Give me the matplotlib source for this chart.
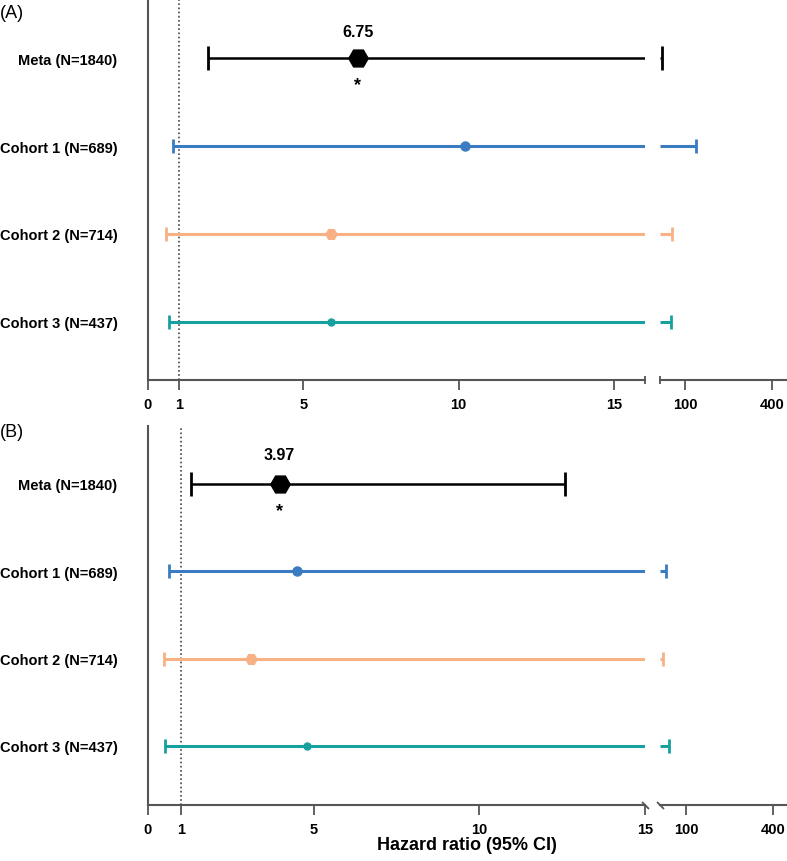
import matplotlib.pyplot as plt

plt.rcParams['font.family'] = ['Liberation Sans', 'DejaVu Sans']

# data
labels = ['Meta (N=1840)', 'Cohort 1 (N=689)', 'Cohort 2 (N=714)', 'Cohort 3 (N=437)']
colors = ['#000000', '#3a7bc2', '#f7b184', '#17a0a0']
markers = ['H', 'o', 'H', 'o']
msizes = [14, 6.5, 8, 5]

# panel A
hr_a = [6.75, 10.2, 5.9, 5.9]
lo_a = [1.93, 0.8, 0.58, 0.68]
hi_a = [20.7, 138, 55, 52]

# panel B
hr_b = [3.97, 4.5, 3.1, 4.8]
lo_b = [1.29, 0.63, 0.48, 0.51]
hi_b = [12.6, 31, 20.6, 41]

left_ticks_a = [0, 1, 5, 10, 15]
left_ticks_b = [0, 1, 5, 10, 15]
right_ticks = [100, 400]

W, H = 787, 862
AXC = '#555555'

fig = plt.figure(figsize=(W / 100, H / 100), dpi=100)


def px_box(x0, x1, y0, y1):
    # y0 top, y1 bottom (pixels from top)
    return [x0 / W, 1 - y1 / H, (x1 - x0) / W, (y1 - y0) / H]


def style_ax(ax, left_spine):
    for s in ['top', 'right']:
        ax.spines[s].set_visible(False)
    ax.spines['left'].set_visible(left_spine)
    for s in ['left', 'bottom']:
        ax.spines[s].set_color(AXC)
        ax.spines[s].set_linewidth(1.5)
    ax.tick_params(axis='x', direction='out', length=7, width=1.3, color=AXC, pad=5)
    for t in ax.get_xticklabels():
        t.set_fontweight('bold')
        t.set_fontsize(10.5)


def draw_panel(top, bottom, row0, step, hr, lo, hi, lxlim, rxlim, lticks, star_txt, broken):
    axl = fig.add_axes(px_box(148, 645, top, bottom))
    axr = fig.add_axes(px_box(660, 787, top, bottom))
    ylo = (bottom - row0) / step
    yhi = (top - row0) / step
    for ax in (axl, axr):
        ax.set_ylim(ylo, yhi)
    axl.set_xlim(*lxlim)
    axr.set_xlim(*rxlim)

    axl.axvline(1, ls=(0, (1, 1.5)), color='#444444', lw=1.2, zorder=1)

    for i in range(4):
        c = colors[i]
        lw = 1.8 if i == 0 else 2.2
        cap = 17 if i == 0 else 9.5
        # left part
        axl.plot([lo[i], min(hi[i], lxlim[1])], [i, i], color=c, lw=lw, zorder=2,
                 solid_capstyle='butt')
        axl.plot([lo[i]], [i], marker='|', ms=cap, mew=2, color=c, zorder=2)
        if hi[i] <= lxlim[1]:
            axl.plot([hi[i]], [i], marker='|', ms=cap, mew=2, color=c, zorder=2)
        else:
            axr.plot([rxlim[0], hi[i]], [i, i], color=c, lw=lw, zorder=2,
                     solid_capstyle='butt', clip_on=False)
            axr.plot([hi[i]], [i], marker='|', ms=cap, mew=2, color=c, zorder=2)
        axl.plot([hr[i]], [i], marker=markers[i], ms=msizes[i], color=c,
                 mec=c, zorder=3, linestyle='none')

    axl.text(hr[0], star_txt[0], f'{hr[0]:.2f}', ha='center', va='center',
             fontsize=11.5, fontweight='bold')
    axl.text(hr[0], star_txt[1], '*', ha='center', va='center',
             fontsize=13, fontweight='bold')

    axl.set_yticks(range(4))
    axl.set_yticklabels(labels, fontsize=10.5, fontweight='bold')
    axl.tick_params(axis='y', length=0, pad=22)
    axr.set_yticks([])

    axl.set_xticks(lticks)
    axl.set_xticklabels([str(t) for t in lticks])
    axr.set_xticks(right_ticks)
    axr.set_xticklabels([str(t) for t in right_ticks])
    style_ax(axl, True)
    style_ax(axr, False)

    if broken:
        sl = [(-1, 1), (1, -1)]
        axl.plot([1], [0], transform=axl.transAxes, marker=sl, ms=5, mew=1.3,
                 color=AXC, clip_on=False, linestyle='none', markeredgecolor=AXC)
        axr.plot([0], [0], transform=axr.transAxes, marker=sl, ms=5, mew=1.3,
                 color=AXC, clip_on=False, linestyle='none', markeredgecolor=AXC)
    else:
        axl.plot([1], [0], transform=axl.transAxes, marker='|', ms=6, mew=1.3,
                 color=AXC, clip_on=False)
        axr.plot([0], [0], transform=axr.transAxes, marker='|', ms=6, mew=1.3,
                 color=AXC, clip_on=False)
    return axl, axr


draw_panel(0, 381, 59, 88, hr_a, lo_a, hi_a, (0, 16), (13.8, 452),
           left_ticks_a, (-0.30, 0.30), False)
draw_panel(427, 806, 485, 87.3, hr_b, lo_b, hi_b, (0, 15), (10.3, 448),
           left_ticks_b, (-0.34, 0.30), True)

fig.text(0.0, 1 - 14 / H, '(A)', fontsize=13, va='center', ha='left')
fig.text(0.0, 1 - 433 / H, '(B)', fontsize=13, va='center', ha='left')
fig.text(467 / W, 1 - 846 / H, 'Hazard ratio (95% CI)', fontsize=13,
         fontweight='bold', ha='center', va='center')

fig.savefig('out.png', dpi=100)
